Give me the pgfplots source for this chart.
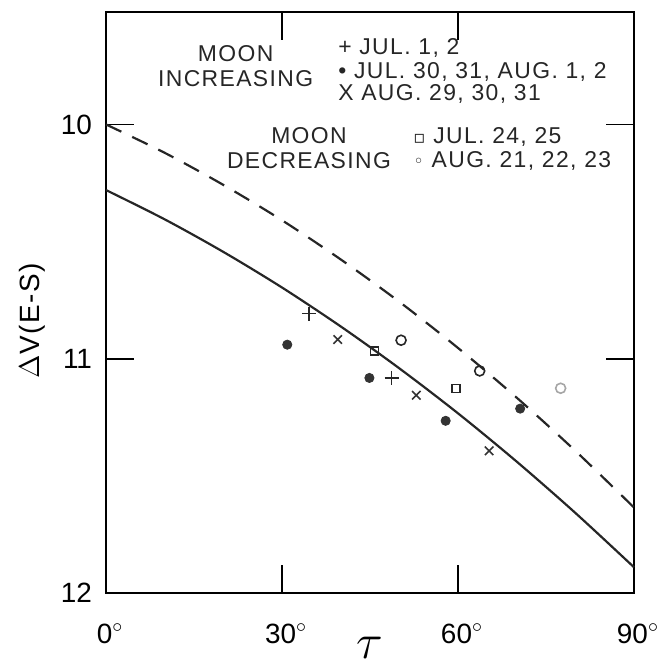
\documentclass[border=0pt]{standalone}
\usepackage{pgfplots}
\pgfplotsset{compat=1.18}
\usepackage{fontspec}
\setmainfont{Liberation Sans}
\newfontfamily\lett[LetterSpace=6]{Liberation Sans}
\newfontfamily\symf{DejaVu Sans}
\begin{document}
\begin{tikzpicture}
\begin{axis}[
  scale only axis,
  width=264bp, height=290.5bp,
  xmin=0, xmax=90, ymin=9.52, ymax=12,
  y dir=reverse,
  axis line style={line width=1pt},
  xtick={0,30,60,90},
  xticklabels={0$^{\circ}$,30$^{\circ}$,60$^{\circ}$,90$^{\circ}$},
  ytick={10,11,12},
  yticklabels={10,11,12},
  tick align=inside,
  major tick length=14bp,
  tick style={line width=0.8pt, black},
  ticklabel style={font=\fontsize{14}{16}\selectfont},
  xticklabel style={anchor=base, yshift=-25bp, xshift=2bp, inner sep=1bp},
  yticklabel style={xshift=-3.5bp},
  xlabel={$\tau$},
  xlabel style={font=\fontsize{23}{23}\selectfont, at={(axis description cs:0.5,0)}, anchor=base, yshift=-32.5bp, inner sep=0.5bp},
  ylabel={$\Delta$V(E-S)},
  ylabel style={font=\fontsize{14}{16}\selectfont\lett, at={(axis description cs:0,0.5)}, anchor=center, yshift=37bp, xshift=-9bp},
  clip=false,
]
% curves
\addplot[black!85, line width=1.1pt, smooth] coordinates {
(0,10.28) (10,10.405) (20,10.544) (30,10.696) (40,10.862) (50,11.041) (60,11.233) (70,11.439) (80,11.658) (90,11.89)};
\addplot[black!85, line width=1.1pt, smooth, dash pattern=on 8.5bp off 6bp] coordinates {
(0,10.0) (10,10.121) (20,10.258) (30,10.409) (40,10.576) (50,10.757) (60,10.954) (70,11.166) (80,11.393) (90,11.635)};
% Moon increasing: Jul 1,2 (+)
\addplot[only marks, mark=+, mark size=3.5bp, black!85, line width=0.8pt] coordinates {(34.6,10.807) (48.7,11.082)};
% Jul 30,31, Aug 1,2 (dots)
\addplot[only marks, mark=*, mark size=2.3bp, black!80] coordinates {(30.9,10.94) (44.9,11.082) (57.9,11.265) (70.6,11.213)};
% Aug 29,30,31 (x)
\addplot[only marks, mark=x, mark size=3bp, black!80, line width=0.8pt] coordinates {(39.5,10.918) (52.9,11.156) (65.3,11.393)};
% Moon decreasing: Jul 24,25 (squares)
\addplot[only marks, mark=square, mark size=2bp, black!85, line width=0.8pt] coordinates {(45.8,10.968) (59.7,11.127)};
% Aug 21,22,23 (circles)
\addplot[only marks, mark=o, mark size=2.5bp, black!85, line width=0.8pt] coordinates {(50.3,10.921) (63.7,11.052)};
\addplot[only marks, mark=o, mark size=2.5bp, black!35, line width=0.8pt] coordinates {(77.5,11.126)};
% legend text
\node[align=center, font=\fontsize{11.5}{12.5}\selectfont\lett, text=black!85] at (axis cs:22.1,9.75) {MOON\\INCREASING};
\node[anchor=west, font=\fontsize{11.5}{12.5}\selectfont\lett, text=black!85] at (axis cs:38.4,9.672) {+ JUL. 1, 2};
\node[anchor=west, font=\fontsize{11.5}{12.5}\selectfont\lett, text=black!85] at (axis cs:38.4,9.778) {• JUL. 30, 31, AUG. 1, 2};
\node[anchor=west, font=\fontsize{11.5}{12.5}\selectfont\lett, text=black!85] at (axis cs:38.4,9.868) {X AUG. 29, 30, 31};
\node[align=center, font=\fontsize{11.5}{12.5}\selectfont\lett, text=black!85] at (axis cs:34.6,10.10) {MOON\\DECREASING};
\node[anchor=west, font=\fontsize{11.5}{12.5}\selectfont\lett, text=black!85] at (axis cs:51.2,10.055) {{\symf\fontsize{9}{9}\selectfont ▫} JUL. 24, 25};
\node[anchor=west, font=\fontsize{11.5}{12.5}\selectfont\lett, text=black!85] at (axis cs:51.2,10.154) {{\symf\fontsize{9}{9}\selectfont ◦} AUG. 21, 22, 23};
\end{axis}
\path ([xshift=-53bp,yshift=-37.5bp]current axis.south west) rectangle ([xshift=16.5bp,yshift=6bp]current axis.north east);
\end{tikzpicture}
\end{document}
